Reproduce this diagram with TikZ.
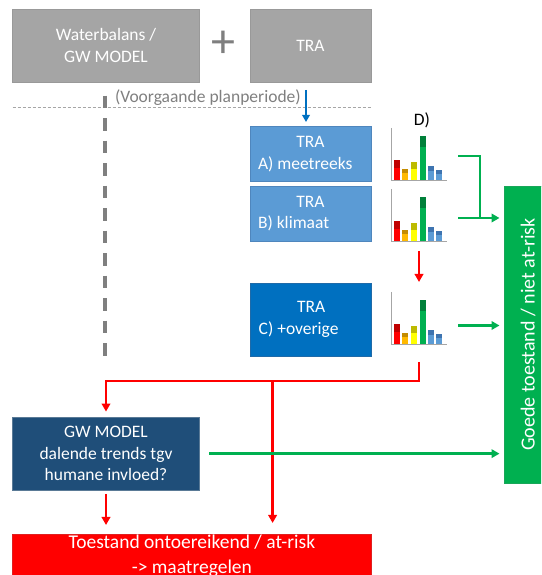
\documentclass[tikz,border=0pt]{standalone}
\usepackage{fontspec}
\setmainfont{Carlito}
\usetikzlibrary{arrows.meta,calc,positioning}
\definecolor{boxgrey}{HTML}{A5A5A5}
\definecolor{boxgreyline}{HTML}{999999}
\definecolor{trablue}{HTML}{5B9BD5}
\definecolor{trablueline}{HTML}{4F86BD}
\definecolor{tracblue}{HTML}{0070C0}
\definecolor{tracblueline}{HTML}{1F6AA8}
\definecolor{gwblue}{HTML}{1F4E79}
\definecolor{gwblueline}{HTML}{5A7A96}
\definecolor{alarmred}{HTML}{FF0000}
\definecolor{goedgreen}{HTML}{00B050}
\definecolor{textgrey}{HTML}{7F7F7F}
\definecolor{axisgrey}{HTML}{A6A6A6}
\definecolor{bred}{HTML}{FF0000}
\definecolor{bredd}{HTML}{C00000}
\definecolor{borange}{HTML}{FFB900}
\definecolor{borangedk}{HTML}{C48C00}
\definecolor{byellow}{HTML}{FFFF00}
\definecolor{byellowdk}{HTML}{BDBA00}
\definecolor{bgreen}{HTML}{00B050}
\definecolor{bgreendk}{HTML}{00803A}
\definecolor{bblue}{HTML}{5B9BD5}
\definecolor{bbluedk}{HTML}{3E74B0}
\newcommand{\boxfont}{\fontsize{17.5}{21.7}\selectfont}
\newcommand{\minichart}[1]{%
  \begin{scope}[shift={(#1.south west)}]
    \foreach \bx/\bh/\bd/\bc/\bk in {2.5/20.7/8/bred/bredd, 11/11.7/3.7/borange/borangedk,
        19.7/19/6.7/byellow/byellowdk, 28.7/44.7/11/bgreen/bgreendk,
        36.7/15/5.3/bblue/bbluedk, 44.7/11/4/bblue/bbluedk}{
      \fill[\bc] (\bx,0) rectangle ++(6,\bh-\bd);
      \fill[\bk] (\bx,\bh-\bd) rectangle ++(6,\bd);
    }
    \draw[axisgrey, line width=1pt] (0,53) |- (56,0);
  \end{scope}}
\tikzset{
  every node/.style={inner sep=0pt, outer sep=0pt},
  boxtext/.style={text=white, font=\boxfont, align=center},
  greybox/.style={boxtext, fill=boxgrey, draw=boxgreyline, line width=0.8pt, minimum height=73.3pt},
  trabox/.style={boxtext, align=left, fill=trablue, draw=trablueline, line width=0.8pt, minimum width=121pt},
  gwbox/.style={boxtext, fill=gwblue, draw=gwblueline, line width=0.8pt, minimum width=186.6pt, minimum height=72.7pt},
  alarmbox/.style={boxtext, font=\fontsize{19.5}{24.5}\selectfont, fill=alarmred, draw=red!75!gray, line width=0.8pt, minimum width=358.3pt, minimum height=44pt},
  goedbox/.style={boxtext, font=\fontsize{20}{24}\selectfont, fill=goedgreen, draw=goedgreen!80!gray, line width=0.8pt, minimum width=48pt, minimum height=297pt},
  chart/.style={minimum width=56pt, minimum height=53pt},
  plussign/.style={text=textgrey, font=\fontsize{48}{48}\selectfont},
  prevtext/.style={text=textgrey, font=\fontsize{17.5}{21}\selectfont},
  labeltext/.style={font=\fontsize{17.5}{21}\selectfont},
  sepline/.style={draw=axisgrey, line width=0.8pt, dash pattern=on 3pt off 2pt},
  divider/.style={draw=textgrey, line width=3.5pt, dash pattern=on 12.5pt off 10pt},
  redarrow/.style={draw=alarmred, line width=2.5pt, -{Triangle[width=8.5pt,length=8pt]}},
  greenline/.style={draw=goedgreen, line width=2.5pt},
  greenarrow/.style={greenline, -{Triangle[width=8.5pt,length=8pt]}},
  bluearrow/.style={draw=tracblue, line width=2pt, -{Triangle[width=7.5pt,length=7pt]}}
}
\begin{document}
\begin{tikzpicture}[x=1pt,y=1pt]
  \clip (0,0) rectangle (541,575);
  % top row
  \node[greybox, minimum width=186.6pt] (water) at (106,529.35) {Waterbalans /\\GW MODEL};
  \node[plussign] (plus) at (223.5,531) {+};
  \node[greybox, minimum width=121pt] (tra) at (310.5,529.35) {TRA};
  \node[prevtext, anchor=west] (prev) at (115,477) {(Voorgaande planperiode)};
  \draw[sepline] ([yshift=-25.4pt]water.south west) -- ([yshift=-25.4pt]tra.south east);
  \draw[divider] ([shift={(-1,-13.4)}]water.south) -- ++(0,-261);
  % TRA steps
  \node[trabox, minimum height=55.7pt] (traA) at (310.5,421.15) {\makebox[105pt]{TRA}\\A) meetreeks};
  \node[trabox, minimum height=55pt] (traB) at (310.5,361.5) {\makebox[105pt]{TRA}\\B) klimaat};
  \node[trabox, fill=tracblue, draw=tracblueline, minimum height=73pt] (traC) at (311.2,255.5) {\makebox[105pt]{TRA}\\C) +overige};
  \draw[bluearrow] ([shift={(-4.5,-7.7)}]tra.south) -- ([shift={(-4.5,4)}]traA.north);
  % D) charts
  \node[chart] (d1) at (419,420.5) {};
  \node[chart] (d2) at (419,359.5) {};
  \node[chart] (d3) at (419,256.5) {};
  \foreach \c in {d1,d2,d3} {\minichart{\c}}
  \node[labeltext] (dlab) at (422,455) {D)};
  % outcomes
  \node[goedbox] (goed) at (528,240.5) {\rotatebox{90}{Goede toestand / niet at-risk}};
  \node[gwbox] (gw) at (106,121.35) {GW MODEL\\dalende trends tgv\\humane invloed?};
  \node[alarmbox] (alarm) at (191.85,19) {Toestand ontoereikend / at-risk\\-> maatregelen};
  % connectors
  \coordinate (join) at (480,357);
  \coordinate (fork) at (272.6,194);
  \draw[greenline] ([shift={(11,-1.5)}]d1.east) -| (join);
  \draw[greenarrow] ([shift={(11,-2.5)}]d2.east) -- ($(d2.east -| goed.west)+(-4.5,-2.5)$);
  \draw[greenarrow] ([shift={(11,-7)}]d3.east) -- ($(d3.east -| goed.west)+(-4.5,-7)$);
  \draw[redarrow] ([yshift=-9pt]d2.south) -- ([yshift=10pt]d3.north);
  \draw[redarrow] ([yshift=-17pt]d3.south) |- ($(gw.north)+(0,36.3)$) -- ($(gw.north)+(0,5.7)$);
  \draw[redarrow] (fork) -- ($(fork |- alarm.north)+(0,11)$);
  \draw[redarrow] ([yshift=-4pt]gw.south) -- ($(gw.south |- alarm.north)+(0,9)$);
  \draw[greenarrow] ([xshift=10pt]gw.east) -- ($(gw.east -| goed.west)+(-4.5,0)$);
\end{tikzpicture}
\end{document}
